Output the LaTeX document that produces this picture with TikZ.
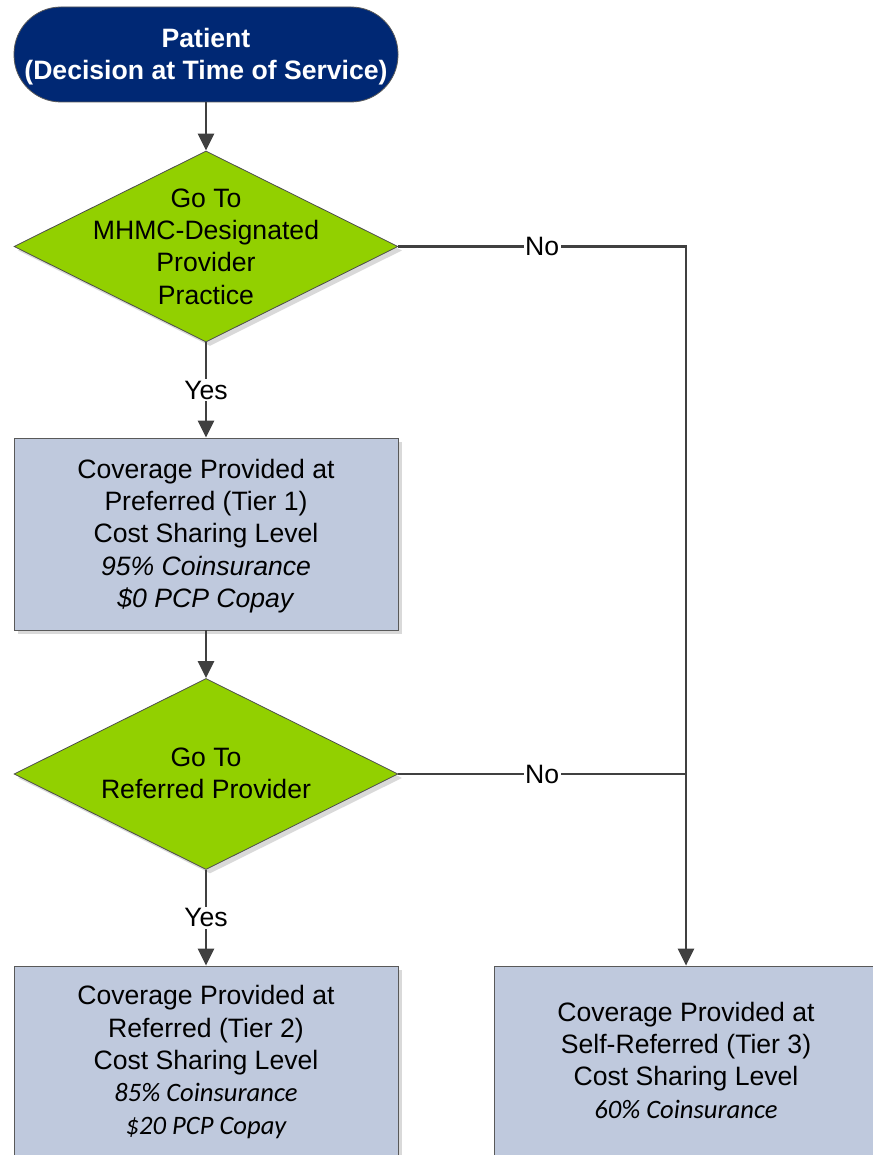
\documentclass[tikz,border=0pt]{standalone}
\usepackage{fontspec}
\setmainfont{Liberation Sans}
\newfontfamily\calfont{Carlito}
\usetikzlibrary{shapes.geometric,arrows.meta,shadows}
\definecolor{navy}{RGB}{0,40,116}
\definecolor{lime}{RGB}{146,208,0}
\definecolor{boxblue}{RGB}{191,201,221}
\definecolor{linegray}{RGB}{64,64,64}
\tikzset{
  txt/.style={font=\fontsize{26.6}{32.3}\selectfont, align=center},
  shad/.style={drop shadow={shadow xshift=4pt, shadow yshift=-4pt, fill=black!15, opacity=1}},
  term/.style={draw=gray!70!black, line width=0.8pt, fill=navy, rounded corners=47pt,
    minimum width=384pt, minimum height=95pt, text=white, inner sep=0pt},
  dec/.style={diamond, draw=gray!60!black, line width=0.8pt, fill=lime, shad,
    minimum width=384pt, minimum height=191pt, inner sep=0pt, aspect=2},
  proc/.style={rectangle, draw=gray!70!black, line width=0.8pt, fill=boxblue, shad,
    minimum width=384pt, minimum height=192pt, inner sep=0pt},
  conn/.style={draw=linegray, line width=2.4pt},
  arr/.style={conn, -{Triangle[length=17pt,width=16pt]}},
  lbl/.style={txt, fill=white, inner sep=1.5pt, text=black}
}
\begin{document}
\begin{tikzpicture}[x=1pt, y=-1pt]
\useasboundingbox (0,0) rectangle (872,1155);
% nodes
\node[term] (pat) at (206,54.5) {};
\node[txt, text=white, font=\fontsize{26.6}{32.3}\selectfont\bfseries] (pattxt) at (206,56.5) {Patient\\(Decision at Time of Service)};
\node[dec] (d1) at (206,246.5) {};
\node[txt] (d1txt) at (d1) {Go To\\MHMC-Designated\\Provider\\Practice};
\node[proc] (b1) at (206,534) {};
\node[txt] (b1txt) at (206,536) {Coverage Provided at\\Preferred (Tier 1)\\Cost Sharing Level\\\textit{95\% Coinsurance}\\\textit{\$0 PCP Copay}};
\node[dec] (d2) at (206,774) {};
\node[txt] (d2txt) at (206,773) {Go To\\Referred Provider};
\node[proc] (b2) at (206,1062) {};
\node[txt, anchor=north] (b2txt) at (206,982) {Coverage Provided at\\Referred (Tier 2)\\Cost Sharing Level\\{\calfont\itshape 85\% Coinsurance}\\{\calfont\itshape \$20 PCP Copay}};
\node[proc] (b3) at (686,1062) {};
\node[txt, anchor=north] (b3txt) at (686,998.5) {Coverage Provided at\\Self-Referred (Tier 3)\\Cost Sharing Level\\{\calfont\itshape 60\% Coinsurance}};
% connectors
\draw[arr] (pat.south) -- (d1.north);
\draw[arr] (d1.south) -- node[lbl] {Yes} (b1.north);
\draw[arr] (b1.south) -- (d2.north);
\draw[arr] (d2.south) -- node[lbl] {Yes} (b2.north);
\draw[arr] (d1.east) -| node[lbl, pos=0.25] {No} (b3.north);
\draw[conn] (d2.east) -- node[lbl] {No} (d2.east -| b3.north);
\end{tikzpicture}
\end{document}
